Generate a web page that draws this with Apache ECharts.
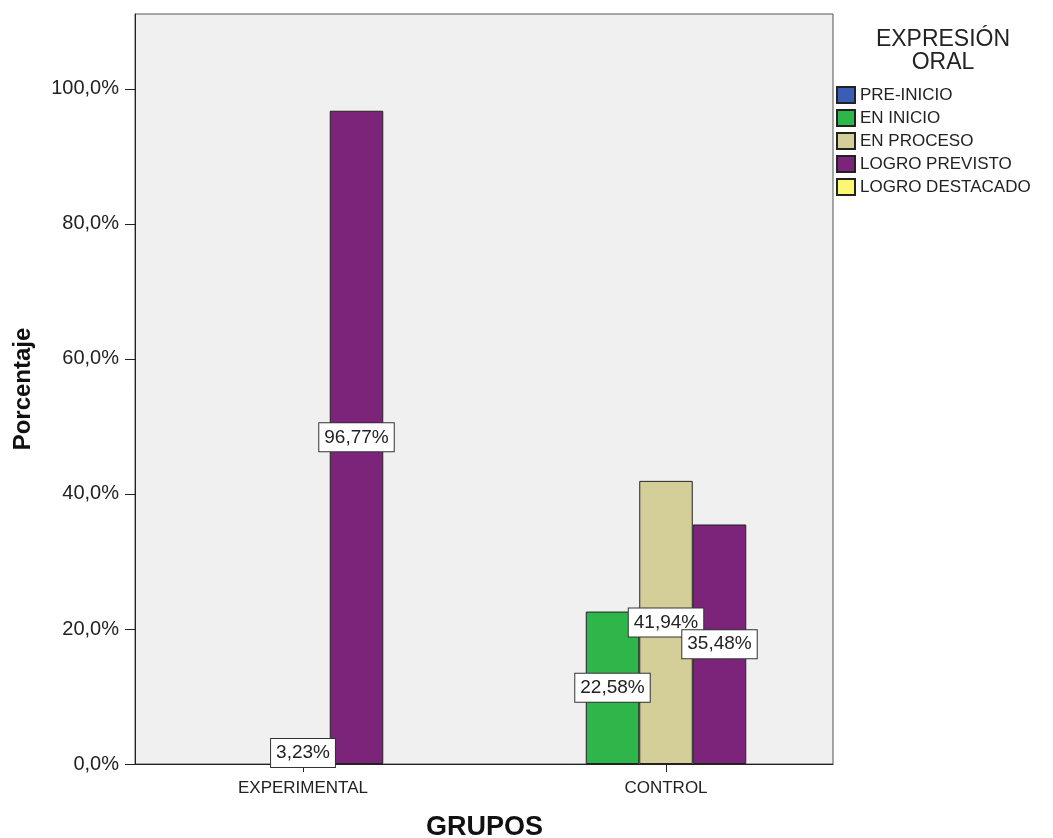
<!DOCTYPE html>
<html><head><meta charset="utf-8">
<script src="https://cdn.jsdelivr.net/npm/echarts@6/dist/echarts.min.js"></script>
<style>html,body{margin:0;padding:0;background:#fff}#c{width:1053px;height:838px}</style>
</head><body><div id="c"></div>
<script>
const categories = ['EXPERIMENTAL', 'CONTROL'];
const seriesNames = ['PRE-INICIO', 'EN INICIO', 'EN PROCESO', 'LOGRO PREVISTO', 'LOGRO DESTACADO'];
const enInicio = ['-', 22.58];
const enProceso = [3.23, 41.94];
const logroPrevisto = [96.77, 35.48];
const yTicks = [0, 20, 40, 60, 80, 100];
const colors = {
  'PRE-INICIO': '#3a5db5',
  'EN INICIO': '#2fb64a',
  'EN PROCESO': '#d4cf98',
  'LOGRO PREVISTO': '#7b2479',
  'LOGRO DESTACADO': '#fbf775'
};
const FONT = 'Liberation Sans, Arial, sans-serif';
const yMax = 111.1;

const label = {
  show: true, position: 'inside', color: '#222', fontFamily: FONT, fontSize: 19,
  backgroundColor: '#fff', borderColor: '#333', borderWidth: 1, padding: [5, 5, 4, 5],
  formatter: p => p.value.toFixed(2).replace('.', ',') + '%'
};
function barSeries(name, data, axis) {
  return {
    name, type: 'bar', data, xAxisIndex: axis, yAxisIndex: axis,
    barWidth: 53.5, barGap: '0%',
    itemStyle: { color: colors[name], borderColor: '#222', borderWidth: 1 },
    label: axis === 1 ? label : { show: false },
    emphasis: { disabled: true }
  };
}

const chart = echarts.init(document.getElementById('c'));
chart.setOption({
  animation: false,
  textStyle: { fontFamily: FONT },
  title: {
    text: 'EXPRESIÓN\nORAL', left: 938, top: 23, textAlign: 'center',
    textStyle: { fontFamily: FONT, fontSize: 23, fontWeight: 'normal', color: '#222', lineHeight: 23 }
  },
  legend: {
    orient: 'vertical', left: 836, top: 86, padding: 0, itemWidth: 18, itemHeight: 16, itemGap: 5,
    icon: 'rect', selectedMode: false,
    textStyle: { fontFamily: FONT, fontSize: 17, color: '#222' },
    data: seriesNames
  },
  grid: [
    { left: 135, right: 220, top: 14, bottom: 74, outerBoundsMode: 'none', containLabel: false,
      show: true, backgroundColor: '#f0f0f0', borderColor: '#555', borderWidth: 1 },
    { left: 121.5, right: 205.5, top: 14, bottom: 74, outerBoundsMode: 'none', containLabel: false }
  ],
  xAxis: [
    { gridIndex: 0, type: 'category', data: categories,
      axisLine: { show: true, lineStyle: { color: '#222', width: 1 } },
      axisTick: { show: false }, axisLabel: { show: false } },
    { gridIndex: 1, type: 'category', data: categories,
      axisLine: { show: false },
      axisTick: { show: true, alignWithLabel: true, length: 8, lineStyle: { color: '#222' } },
      axisLabel: { color: '#222', fontFamily: FONT, fontSize: 17, margin: 16 },
      name: 'GRUPOS', nameLocation: 'middle', nameGap: 50,
      nameTextStyle: { fontFamily: FONT, fontSize: 27, fontWeight: 'bold', color: '#111' } }
  ],
  yAxis: [
    { gridIndex: 0, type: 'value', min: 0, max: yMax, interval: 20,
      axisLine: { show: true, lineStyle: { color: '#222', width: 1 } },
      axisTick: { show: true, length: 10, customValues: yTicks, lineStyle: { color: '#222' } },
      splitLine: { show: false },
      axisLabel: { color: '#222', fontFamily: FONT, fontSize: 20, margin: 16,
        customValues: yTicks,
        formatter: v => v.toFixed(1).replace('.', ',') + '%' },
      name: 'Porcentaje', nameLocation: 'middle', nameGap: 100, nameRotate: 90,
      nameTextStyle: { fontFamily: FONT, fontSize: 24, fontWeight: 'bold', color: '#111' } },
    { gridIndex: 1, type: 'value', min: 0, max: yMax, interval: 20, show: false, splitLine: { show: false } }
  ],
  series: [
    barSeries('PRE-INICIO', [], 0),
    barSeries('EN INICIO', enInicio, 1),
    barSeries('EN PROCESO', enProceso, 1),
    barSeries('LOGRO PREVISTO', logroPrevisto, 1),
    barSeries('LOGRO DESTACADO', [], 0)
  ]
});
</script></body></html>
